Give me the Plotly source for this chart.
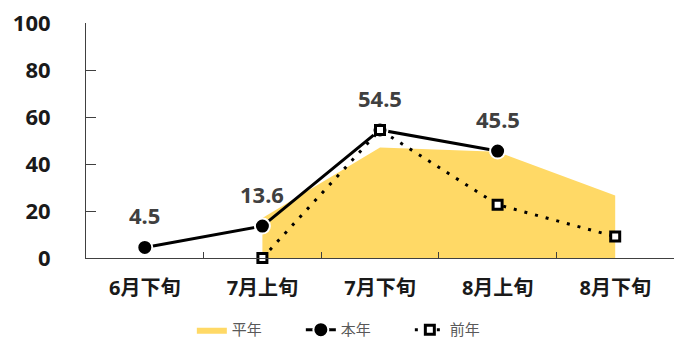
import plotly.graph_objects as go

# Ten-day periods
periods = ["6月下旬", "7月上旬", "7月下旬", "8月上旬", "8月下旬"]

# Normal-year (平年) values, shown as a filled area
normal = [None, 17.0, 47.0, 45.2, 26.6]
# This year (本年)
this_year = [4.5, 13.6, 54.5, 45.5, None]
# Last year (前年)
last_year = [None, 0.0, 54.5, 22.7, 9.1]

y_ticks = [0, 20, 40, 60, 80, 100]

FONT = "Noto Sans, Noto Sans CJK JP"

fig = go.Figure()

fig.add_trace(go.Scatter(
    x=periods, y=normal, name="平年", mode="lines",
    line=dict(width=0, color="#FFD966"),
    fill="tozeroy", fillcolor="#FFD966",
    hoverinfo="skip",
))

fig.add_trace(go.Scatter(
    x=periods, y=this_year, name="本年", mode="lines+markers",
    line=dict(color="black", width=3),
    marker=dict(symbol="circle", size=15, color="black",
                line=dict(color="white", width=2)),
    cliponaxis=False,
))

fig.add_trace(go.Scatter(
    x=periods, y=last_year, name="前年", mode="lines+markers",
    line=dict(color="black", width=3, dash="3px,8px"),
    marker=dict(symbol="square", size=9, color="white",
                line=dict(color="black", width=3)),
    cliponaxis=False,
))

# Value labels above this year's points
for p, v in zip(periods, this_year):
    if v is None:
        continue
    fig.add_annotation(
        x=p, y=v, text=f"{v:.1f}", showarrow=False,
        yshift=32, yanchor="middle",
        font=dict(family=FONT, size=22, color="#404040", weight="bold"),
    )

fig.update_layout(
    width=674, height=338,
    margin=dict(l=86, r=0, t=23, b=80, autoexpand=False),
    paper_bgcolor="white", plot_bgcolor="white",
    showlegend=True,
    legend=dict(
        orientation="h", x=0.18, xanchor="left",
        yref="container", y=0.024, yanchor="middle",
        font=dict(family=FONT, size=15, color="#595959"),
        entrywidth=64, entrywidthmode="pixels", traceorder="normal",
    ),
    font=dict(family=FONT),
)

fig.update_xaxes(
    type="category", range=[-0.5, 4.5], automargin=False,
    showline=True, linecolor="#404040", linewidth=1,
    ticks="inside", tickson="boundaries", ticklen=6,
    tickcolor="#404040", showgrid=False,
    tickfont=dict(family=FONT, size=20, color="#1a1a1a", weight="bold"),
    ticklabelstandoff=12,
)

fig.update_yaxes(
    range=[0, 100], tickvals=y_ticks, automargin=False,
    showline=True, linecolor="#404040", linewidth=1,
    ticks="inside", ticklen=10, tickcolor="#404040",
    showgrid=False, zeroline=False,
    tickfont=dict(family=FONT, size=22, color="#1a1a1a", weight="bold"),
    ticklabelstandoff=30,
)

fig.write_html("out.html")
